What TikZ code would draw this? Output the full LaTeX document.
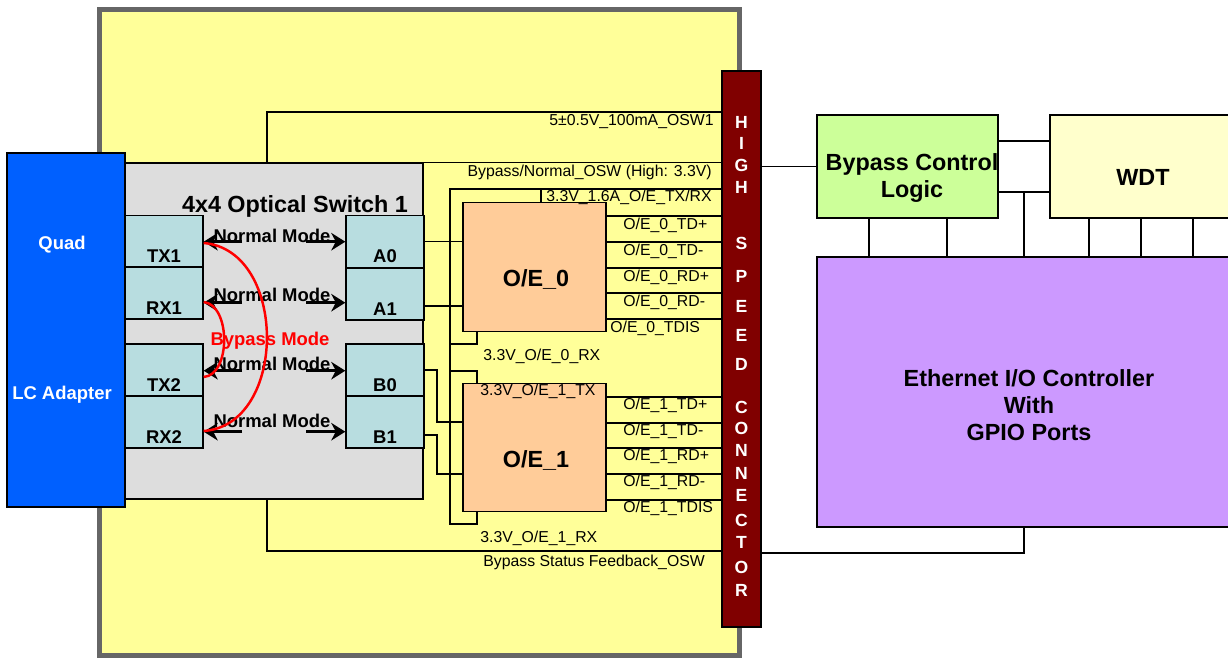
\documentclass[tikz,border=0pt]{standalone}
\usepackage{fontspec}
\setmainfont{Liberation Sans}
\usetikzlibrary{arrows.meta}
\definecolor{board}{HTML}{FFFF99}
\definecolor{rim}{HTML}{666666}
\definecolor{adapter}{HTML}{0060FF}
\definecolor{switchgray}{HTML}{DDDDDD}
\definecolor{portcyan}{HTML}{B8DDE0}
\definecolor{peach}{HTML}{FFCC99}
\definecolor{maroon}{HTML}{800000}
\definecolor{lime}{HTML}{CCFF99}
\definecolor{cream}{HTML}{FFFFCC}
\definecolor{lilac}{HTML}{CC99FF}
\tikzset{
    normal/.style={draw, line width=0.8pt},
    box/.style={style=normal, rectangle, inner sep=0pt},
    port/.style={style=box, fill=portcyan, minimum width=1.56cm, minimum height=1.04cm},
    oe/.style={style=box, fill=peach, minimum width=2.86cm, minimum height=2.57cm},
    w/.style={line width=0.8pt}, % wires
    big/.style={font=\fontsize{13.3}{15.2}\selectfont\bfseries, align=center, inner sep=0pt},
    mid/.style={font=\fontsize{10.5}{12}\selectfont\bfseries, inner sep=0pt},
    sig/.style={font=\fontsize{9}{10}\selectfont, inner sep=0pt},
    cl/.style={font=\fontsize{10}{11}\selectfont\bfseries, white, inner sep=0pt}, % connector letters
    plbl/.style={mid, anchor=south, yshift=2.8pt}, % port labels
    nm/.style={line width=2pt, -{Stealth[length=8pt,width=10pt]}}, % normal mode arrows
    byp/.style={red, line width=1.4pt} % bypass arcs
}
\begin{document}
\begin{tikzpicture}[x=0.02cm, y=-0.02cm]
    \useasboundingbox (0,0) rectangle (1228,659);

    % board and blocks
    \node[draw=rim, line width=2.8pt, fill=board, inner sep=0pt,
          minimum width=12.81cm, minimum height=12.92cm] (board) at (419.75,332.5) {};
    \node[box, fill=adapter, minimum width=2.36cm, minimum height=7.08cm] (lc) at (66,330) {};
    \node[box, fill=switchgray, minimum width=5.96cm, minimum height=6.72cm] (sw) at (274,331) {};
    \node[port, label={[plbl]south:TX1}] (tx1) at (164,241.5) {};
    \node[port, label={[plbl]south:RX1}] (rx1) at (164,293) {};
    \node[port, label={[plbl]south:TX2}] (tx2) at (164,370) {};
    \node[port, label={[plbl]south:RX2}] (rx2) at (164,422) {};
    \node[port, label={[plbl]south:A0}] (a0) at (385,241.5) {};
    \node[port, label={[plbl]south:A1}] (a1) at (385,294) {};
    \node[port, label={[plbl]south:B0}] (b0) at (385,370) {};
    \node[port, label={[plbl]south:B1}] (b1) at (385,422) {};
    \node[oe] (oe0) at (534.5,267) {};
    \node[oe] (oe1) at (534.5,447.5) {};
    \node[box, fill=maroon, minimum width=0.78cm, minimum height=11.12cm] (conn) at (741.5,349) {};
    \node[box, fill=lime, minimum width=3.62cm, minimum height=2.06cm] (bcl) at (907.5,166.5) {};
    \node[box, fill=cream, minimum width=3.8cm, minimum height=2.06cm] (wdt) at (1145,166.5) {};
    \node[box, fill=lilac, minimum width=8.46cm, minimum height=5.4cm] (eth) at (1028.5,392) {};

    % texts in blocks
    \node[mid, white] at (62,245) {Quad};
    \node[mid, white] at (62,395) {LC Adapter};
    \node[big] at (295,206) {4x4 Optical Switch 1};
    \node[big] at (536,279) {O/E\_0};
    \node[big] at (536,460) {O/E\_1};
    \node[big] at (912,178) {Bypass Control\\Logic};
    \node[big] at (1143,177) {WDT};
    \node[big] at (1029,405) {Ethernet I/O Controller\\With\\GPIO Ports};
    \foreach \ch/\y in {H/122, I/143, G/165, H/187, S/243, P/276, E/306, E/335, D/364,
                        C/407, O/428, N/450, N/473, E/495, C/520, T/542, O/567, R/590}
        \node[cl] at (741.5,\y) {\ch};

    % normal mode paths
    \foreach \y/\a/\p/\q in {236/241.7/tx1/a0, 295/302.7/rx1/a1, 364/370.7/tx2/b0, 421/431.7/rx2/b1} {
        \node[mid] at (272,\y) {Normal Mode};
        \draw[nm] (242,\a) -- (\p.east |- 0,\a);
        \draw[nm] (306,\a) -- (\q.west |- 0,\a);
    }
    % bypass mode
    \draw[byp] (tx1.east |- 0,243) .. controls (288,250) and (288,425) .. (rx2.east |- 0,431);
    \draw[byp] (rx1.east |- 0,302) .. controls (231,305) and (231,375) .. (tx2.east |- 0,377);
    \node[mid, red] at (270,341) {Bypass Mode};

    % power and control of the switch
    \draw[w] (267,0 |- sw.north) -- (267,112) -- (267,112 -| conn.west);
    \node[sig, anchor=east] at (714,121.7) {5±0.5V\_100mA\_OSW1};
    \draw[w] (sw.north east) -- (sw.north east -| conn.west);
    \node[sig, anchor=east] at (712,172.7) {Bypass/Normal\_OSW (High: 3.3V)};
    \draw[w] (267,0 |- sw.south) -- (267,551) -- (conn.west |- 0,551);
    \node[sig, anchor=west] at (483,562.7) {Bypass Status Feedback\_OSW};

    % O/E supply
    \draw[w] (conn.west |- 0,189) -- (450,189) -- (450,524) -- (477,524) -- (477,0 |- oe1.south);
    \draw[w] (541,189) -- (541,0 |- oe0.north);
    \draw[w] (450,344) -- (477,344) -- (477,0 |- oe0.south);
    \draw[w] (450,371) -- (477,371) -- (477,0 |- oe1.north);
    \node[sig, anchor=east] at (712,197.7) {3.3V\_1.6A\_O/E\_TX/RX};
    \node[sig, anchor=west] at (483,356) {3.3V\_O/E\_0\_RX};
    \node[sig, anchor=west] at (480,391.7) {3.3V\_O/E\_1\_TX};
    \node[sig, anchor=west] at (480,538.3) {3.3V\_O/E\_1\_RX};

    % switch ports to O/E
    \draw[w] (a0.east) -- (a0.east -| oe0.west);
    \draw[w] (a1.east |- 0,306) -- (oe0.west |- 0,306);
    \draw[w] (b0.east) -- (437,370) -- (437,422) -- (oe1.west |- 0,422);
    \draw[w] (b1.east |- 0,435) -- (437,435) -- (437,474) -- (oe1.west |- 0,474);

    % O/E signals to the connector
    \foreach \y/\s/\x in {216/TD+/623, 242/TD-/623, 268/RD+/623, 293/RD-/623, 319/TDIS/610} {
        \draw[w] (oe0.east |- 0,\y) -- (conn.west |- 0,\y);
        \node[sig, anchor=west] at (\x,{\y+9}) {O/E\_0\_\s};
    }
    \foreach \y/\s in {397/TD+, 423/TD-, 448/RD+, 474/RD-, 500/TDIS} {
        \draw[w] (oe1.east |- 0,\y) -- (conn.west |- 0,\y);
        \node[sig, anchor=west] at (623,{\y+8.5}) {O/E\_1\_\s};
    }

    % right side
    \draw[w] (conn.east |- bcl.west) -- (bcl.west);
    \draw[w] (bcl.east |- 0,141) -- (wdt.west |- 0,141);
    \draw[w] (bcl.east |- 0,192) -- (wdt.west |- 0,192);
    \draw[w] (1024,192) -- (1024,0 |- eth.north);
    \foreach \x in {869,947}
        \draw[w] (\x,0 |- bcl.south) -- (\x,0 |- eth.north);
    \foreach \x in {1089,1141,1193}
        \draw[w] (\x,0 |- wdt.south) -- (\x,0 |- eth.north);
    \draw[w] (1024,0 |- eth.south) -- (1024,553) -- (conn.east |- 0,553);
\end{tikzpicture}
\end{document}
